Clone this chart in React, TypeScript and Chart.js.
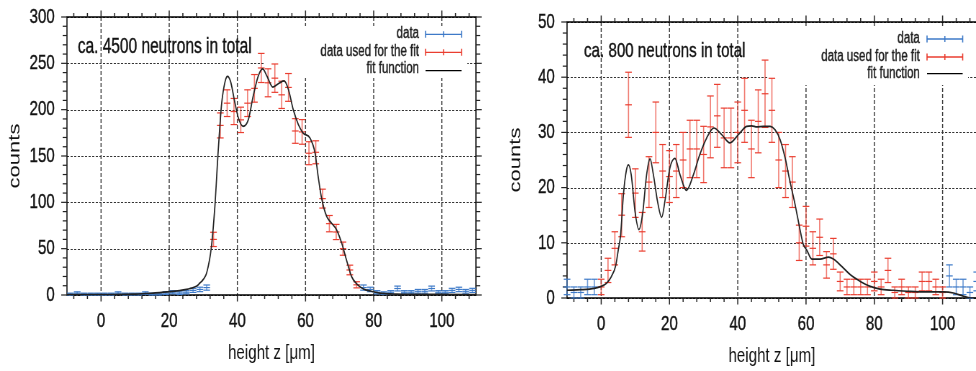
import React, { useEffect, useRef } from "react";
import { Chart, registerables } from "chart.js";

Chart.register(...registerables);

// ---------------- left panel data (2 µm bins) ----------------
const leftBins = [-9, -7, -5, -3, -1, 1, 3, 5, 7, 9, 11, 13, 15, 17, 19, 21, 23, 25, 27, 29, 31, 33, 35, 37, 39, 41, 43, 45, 47, 49, 51, 53, 55, 57, 59, 61, 63, 65, 67, 69, 71, 73, 75, 77, 79, 81, 83, 85, 87, 89, 91, 93, 95, 97, 99, 101, 103, 105, 107, 109];
const leftCounts = [1, 2, 1, 1, 1, 1, 1, 2, 1, 1, 1, 2, 1, 1, 2, 3, 2, 3, 5, 6, 8, 60, 183, 207, 198, 189, 207, 223, 245, 229, 234, 216, 224, 177, 176, 153, 154, 104, 77, 68, 50, 27, 11, 8, 6, 3, 2, 3, 7, 3, 3, 4, 4, 7, 3, 3, 5, 6, 4, 5];
const leftErrors = [1, 1.4, 1, 1, 1, 1, 1, 1.4, 1, 1, 1, 1.4, 1, 1, 1.4, 1.7, 1.4, 1.7, 2.2, 2.4, 2.8, 7.7, 13.5, 14.4, 14.1, 13.7, 14.4, 14.9, 15.7, 15.1, 15.3, 14.7, 15, 13.3, 13.3, 12.4, 12.4, 10.2, 8.8, 8.2, 7.1, 5.2, 3.3, 2.8, 2.4, 1.7, 1.4, 1.7, 2.6, 1.7, 1.7, 2, 2, 2.6, 1.7, 1.7, 2.2, 2.4, 2, 2.2];
const leftFitRange = [33, 75];
const leftFitX = [-10, 0, 10, 15.3, 20.2, 25.1, 26.1, 28.1, 29.0, 30.0, 31.0, 32.4, 33.4, 34.4, 35.4, 36.4, 37.1, 38.0, 39.1, 40.3, 41.7, 43.2, 44.6, 46.1, 47.4, 48.7, 50.4, 52.3, 53.7, 55.0, 56.4, 57.9, 59.3, 61.3, 62.8, 63.7, 64.7, 66.2, 67.6, 69.1, 70.6, 72.0, 73.5, 75.0, 77.0, 79.0, 81.8, 86.7, 93.5, 100, 110];
const leftFitY = [0.3, 0.5, 0.9, 2.1, 3.6, 6.1, 7, 9.7, 12.9, 16.9, 24, 52.5, 95.6, 156.8, 207, 230.5, 236, 230.5, 210.7, 191, 182, 189, 214, 236, 244, 236, 224.4, 228.7, 231, 221.5, 200, 183.8, 174.8, 169.4, 153, 128, 104.7, 84.8, 77.7, 70.5, 56.1, 38, 20, 12, 6.5, 4.3, 2.1, 1.0, 0.7, 0.6, 0.5];
const leftXTicks = [0, 20, 40, 60, 80, 100];
const leftYTicks = [0, 50, 100, 150, 200, 250, 300];
const leftTitle = "ca. 4500 neutrons in total";

// ---------------- right panel data (2 µm bins) ----------------
const rightBins = [-10, -8, -6, -4, -2, 0, 2, 4, 6, 8, 10, 12, 14, 16, 18, 20, 22, 24, 26, 28, 30, 32, 34, 36, 38, 40, 42, 44, 46, 48, 50, 52, 54, 56, 58, 60, 62, 64, 66, 68, 70, 72, 74, 76, 78, 80, 82, 84, 86, 88, 90, 92, 94, 96, 98, 100, 102, 104, 106, 108, 110];
const rightCounts = [2, 1, 1, 2, 2, 2, 5, 9, 15, 35, 19, 12, 21, 30, 23, 22, 23, 25, 27, 27, 26, 31, 33, 29, 29, 30, 34, 27, 32, 37, 34, 25, 23, 21, 10, 13, 9, 11, 6, 8, 3, 2, 2, 2, 2, 3, 2, 5, 1, 2, 1, 1, 3, 3, 2, 1, 4, 2, 2, 1, 3];
const rightErrors = [1.4, 1, 1, 1.4, 1.4, 1.4, 2.2, 3, 3.9, 5.9, 4.4, 3.5, 4.6, 5.5, 4.8, 4.7, 4.8, 5, 5.2, 5.2, 5.1, 5.6, 5.7, 5.4, 5.4, 5.5, 5.8, 5.2, 5.7, 6.1, 5.8, 5, 4.8, 4.6, 3.2, 3.6, 3, 3.3, 2.4, 2.8, 1.7, 1.4, 1.4, 1.4, 1.4, 1.7, 1.4, 2.2, 1, 1.4, 1, 1, 1.7, 1.7, 1.4, 1, 2, 1.4, 1.4, 1, 1.7];
const rightFitRange = [0, 100];
const rightFitX = [-10, -6, -2, 0, 1.6, 3.0, 4.3, 5.0, 5.7, 6.5, 7.4, 8.0, 8.8, 9.9, 11.05, 12.1, 13.3, 14.3, 15.3, 16.5, 17.7, 18.8, 20.1, 21.6, 23.1, 25.0, 27.0, 28.9, 30.9, 33.0, 35.3, 37.7, 40.2, 42.6, 44.1, 45.6, 47.5, 49.5, 50.9, 52.4, 53.9, 55.3, 56.8, 58.3, 59.2, 60.2, 61.7, 64.1, 66.6, 68.0, 70.5, 73, 75.9, 78.8, 81.7, 85.6, 90.5, 95.4, 100.3, 103.2, 106.2, 108.1, 110];
const rightFitY = [1.4, 1.5, 1.75, 2.1, 2.7, 3.9, 6.0, 8.7, 11.5, 18.7, 23.2, 24.1, 22.3, 15.7, 12.4, 15.1, 22.3, 25.2, 22.3, 17.5, 14.6, 18.1, 23.5, 25.3, 22.3, 19.5, 22.3, 26, 29, 30.8, 29.6, 28.1, 29.6, 31.1, 31.2, 31.0, 31.1, 31.1, 30.5, 28.7, 25.3, 21.1, 16.9, 12.2, 9.7, 8.7, 7.06, 7.06, 7.4, 7.06, 5.7, 4.2, 3.0, 2.1, 1.6, 1.4, 1.2, 1.1, 1.1, 0.9, 0.3, 0, 0];
const rightXTicks = [0, 20, 40, 60, 80, 100];
const rightYTicks = [0, 10, 20, 30, 40, 50];
const rightTitle = "ca. 800 neutrons in total";

const legendLabels = ["data", "data used for the fit", "fit function"];
const xAxisTitle = "height z [\u03bcm]";
const yAxisTitle = "counts";

// ---------------- styles ----------------
const SQUEEZE = 0.72;
const FONT = "'Liberation Sans', Arial, Helvetica, sans-serif";
const BLUE = "rgb(62,122,200)";
const BLUE_V = "rgba(62,122,200,0.75)";
const RED = "rgb(234,62,48)";
const RED_V = "rgba(234,62,48,0.7)";
const INK = "#111";
const CAP = 4.6;

const leftLayout = {
  offsetX: 0, canvasW: 680, padTop: 17, padRight: 19, yAxisW: 93, xAxisH: 76,
  xMin: -10, xMax: 110, yMin: 0, yMax: 300, xMinorStep: 4, yMinorStep: 10,
  xTitlePadBottom: 5, yTitlePadTop: 8,
  title: { x: 108, y: 52.7, size: 21.5 },
  legend: { textRight: 582, sx0: 591, sx1: 641, baselines: [38, 56, 73], sampleYs: [34.3, 52.3, 70.7] },
  box: { x0: 368, y0: 26, x1: 649, y1: 78 },
};
const rightLayout = {
  offsetX: 490, canvasW: 700, padTop: 22, padRight: 24, yAxisW: 107, xAxisH: 73,
  xMin: -10, xMax: 110, yMin: 0, yMax: 50, xMinorStep: 4, yMinorStep: 2,
  xTitlePadBottom: 2, yTitlePadTop: 23,
  title: { x: 130.6, y: 57.3, size: 21 },
  legend: { textRight: 597, sx0: 607, sx1: 656.5, baselines: [42.5, 60.5, 78], sampleYs: [39, 57, 73.7] },
  box: { x0: 386, y0: 28, x1: 664, y1: 85 },
};

function line(ctx: CanvasRenderingContext2D, x0: number, y0: number, x1: number, y1: number) {
  ctx.beginPath();
  ctx.moveTo(x0, y0);
  ctx.lineTo(x1, y1);
  ctx.stroke();
}

function heavyText(ctx: CanvasRenderingContext2D, s: string, x: number, y: number, color: string) {
  ctx.fillStyle = color;
  ctx.strokeStyle = color;
  ctx.lineWidth = 0.4;
  ctx.fillText(s, x, y);
  ctx.strokeText(s, x, y);
}

function makePlugin(L: any, xTicks: number[], yTicks: number[], title: string) {
  return {
    id: "gnuplotLook",
    beforeDatasetsDraw(chart: any) {
      const { ctx, chartArea: a } = chart;
      const xs = chart.scales.x;
      const ys = chart.scales.y;
      ctx.save();
      // grid
      ctx.strokeStyle = "#333";
      ctx.lineWidth = 1.4;
      ctx.setLineDash([4, 2]);
      xTicks.forEach((v) => {
        const px = xs.getPixelForValue(v);
        line(ctx, px, a.top, px, a.bottom);
      });
      ctx.lineWidth = 1;
      ctx.setLineDash([3, 2]);
      yTicks.forEach((v) => {
        const py = Math.round(ys.getPixelForValue(v)) + 0.5;
        line(ctx, a.left, py, a.right, py);
      });
      ctx.setLineDash([]);
      // opaque key box
      ctx.fillStyle = "#fff";
      ctx.fillRect(L.box.x0, L.box.y0, L.box.x1 - L.box.x0, L.box.y1 - L.box.y0);
      // border
      ctx.strokeStyle = "#000";
      ctx.lineWidth = 1.5;
      ctx.strokeRect(a.left, a.top, a.right - a.left, a.bottom - a.top);
      // ticks (outward, mirrored)
      ctx.strokeStyle = "#222";
      ctx.lineWidth = 1.5;
      const xStart = Math.ceil(L.xMin / L.xMinorStep) * L.xMinorStep;
      for (let v = xStart; v <= L.xMax; v += L.xMinorStep) {
        const major = xTicks.indexOf(v) >= 0;
        const len = major ? 6.5 : 4;
        const px = xs.getPixelForValue(v);
        line(ctx, px, a.bottom, px, a.bottom + len);
        line(ctx, px, a.top, px, a.top - len);
      }
      ctx.lineWidth = 1.2;
      for (let v = L.yMin; v <= L.yMax; v += L.yMinorStep) {
        const major = yTicks.indexOf(v) >= 0;
        const len = major ? 8 : 6;
        const py = ys.getPixelForValue(v);
        line(ctx, a.left, py, a.left - len, py);
        line(ctx, a.right, py, a.right + len, py);
      }
      ctx.restore();
    },
    afterDatasetDraw(chart: any, args: any) {
      const ds = chart.data.datasets[args.index];
      if (!ds.errors) return;
      const ctx = chart.ctx;
      const xs = chart.scales.x;
      const ys = chart.scales.y;
      ctx.save();
      ds.data.forEach((pt: any, i: number) => {
        const e = ds.errors[i];
        const px = xs.getPixelForValue(pt.x);
        const pm = ys.getPixelForValue(pt.y);
        const pt2 = ys.getPixelForValue(pt.y + e);
        const pb = ys.getPixelForValue(pt.y - e);
        ctx.strokeStyle = ds.barColorV;
        ctx.lineWidth = 1.6;
        line(ctx, px, pt2, px, pb);
        ctx.strokeStyle = ds.barColor;
        ctx.lineWidth = 1.2;
        line(ctx, px - CAP, pt2, px + CAP, pt2);
        line(ctx, px - CAP, pb, px + CAP, pb);
        line(ctx, px - CAP, pm, px + CAP, pm);
      });
      ctx.restore();
    },
    afterDraw(chart: any) {
      const ctx = chart.ctx;
      ctx.save();
      // panel annotation
      ctx.font = `${L.title.size}px ${FONT}`;
      ctx.textAlign = "left";
      ctx.textBaseline = "alphabetic";
      heavyText(ctx, title, L.title.x, L.title.y, INK);
      // key
      const colors = [BLUE, RED, "#000"];
      ctx.font = `16px ${FONT}`;
      ctx.textAlign = "right";
      legendLabels.forEach((lab, i) => {
        heavyText(ctx, lab, L.legend.textRight, L.legend.baselines[i], "#222");
        const y = L.legend.sampleYs[i];
        ctx.strokeStyle = colors[i];
        ctx.lineWidth = 1.3;
        line(ctx, L.legend.sx0, y, L.legend.sx1, y);
        if (i < 2) {
          ctx.lineWidth = 1.6;
          line(ctx, L.legend.sx0, y - 3.5, L.legend.sx0, y + 3.5);
          line(ctx, L.legend.sx1, y - 3.5, L.legend.sx1, y + 3.5);
          const mx = (L.legend.sx0 + L.legend.sx1) / 2;
          line(ctx, mx, y - 3, mx, y + 3);
        }
      });
      ctx.restore();
    },
  };
}

function Panel(props: any) {
  const { L, bins, counts, errors, fitRange, fitX, fitY, xTicks, yTicks, title } = props;
  const ref = useRef<HTMLCanvasElement>(null);
  useEffect(() => {
    const idx = bins.map((b: number, i: number) => i);
    const inFit = (i: number) => bins[i] >= fitRange[0] && bins[i] <= fitRange[1];
    const fitIdx = idx.filter((i: number) => inFit(i));
    const restIdx = idx.filter((i: number) => !inFit(i));
    const pt = (i: number) => ({ x: bins[i], y: counts[i] });
    const tickFont = { family: FONT, size: 21 };
    const yTitleFont = { family: FONT, size: 22 };
    const chart = new Chart(ref.current as HTMLCanvasElement, {
      type: "line",
      data: {
        datasets: [
          {
            label: legendLabels[2],
            data: fitX.map((v: number, i: number) => ({ x: v, y: fitY[i] })),
            borderColor: "#222",
            borderWidth: 1.7,
            pointRadius: 0,
            cubicInterpolationMode: "monotone",
            fill: false,
            order: 0,
          },
          {
            label: legendLabels[1],
            data: fitIdx.map(pt),
            errors: fitIdx.map((i: number) => errors[i]),
            barColor: RED,
            barColorV: RED_V,
            showLine: false,
            pointRadius: 0,
            order: 1,
          },
          {
            label: legendLabels[0],
            data: restIdx.map(pt),
            errors: restIdx.map((i: number) => errors[i]),
            barColor: BLUE,
            barColorV: BLUE_V,
            showLine: false,
            pointRadius: 0,
            order: 2,
          },
        ] as any,
      },
      options: {
        responsive: false,
        animation: false,
        devicePixelRatio: 1,
        events: [],
        layout: { padding: { left: 0, top: L.padTop, right: L.padRight, bottom: 0 } },
        plugins: { legend: { display: false }, tooltip: { enabled: false } },
        scales: {
          x: {
            type: "linear",
            min: L.xMin,
            max: L.xMax,
            afterBuildTicks: (s: any) => {
              s.ticks = xTicks.map((v: number) => ({ value: v }));
            },
            afterFit: (s: any) => {
              s.height = L.xAxisH;
              s.paddingLeft = 0;
              s.paddingRight = 0;
              s.paddingTop = 0;
              s.paddingBottom = 0;
            },
            grid: { display: false, drawTicks: false },
            border: { display: false },
            ticks: { padding: 14, font: tickFont, color: INK, maxRotation: 0, autoSkip: false, textStrokeColor: INK, textStrokeWidth: 0.4, callback: (v: any) => String(v) },
            title: { display: true, text: xAxisTitle, font: tickFont, color: INK, padding: { top: 0, bottom: L.xTitlePadBottom } },
          },
          y: {
            type: "linear",
            min: L.yMin,
            max: L.yMax,
            afterBuildTicks: (s: any) => {
              s.ticks = yTicks.map((v: number) => ({ value: v }));
            },
            afterFit: (s: any) => {
              s.width = L.yAxisW;
              s.paddingLeft = 0;
              s.paddingRight = 0;
              s.paddingTop = 0;
              s.paddingBottom = 0;
            },
            grid: { display: false, drawTicks: false },
            border: { display: false },
            ticks: { padding: 17, font: tickFont, color: INK, autoSkip: false, textStrokeColor: INK, textStrokeWidth: 0.4, callback: (v: any) => String(v) },
            title: { display: true, text: yAxisTitle, font: yTitleFont, color: INK, padding: { top: L.yTitlePadTop - 0.6, bottom: 0 } },
          },
        },
      } as any,
      plugins: [makePlugin(L, xTicks, yTicks, title)],
    });
    return () => chart.destroy();
  }, []);
  return (
    <div
      style={{
        position: "absolute",
        left: L.offsetX,
        top: 0,
        width: L.canvasW,
        height: 371,
        transform: `scaleX(${SQUEEZE})`,
        transformOrigin: "0 0",
      }}
    >
      <canvas ref={ref} width={L.canvasW} height={371} style={{ width: L.canvasW, height: 371, display: "block" }} />
    </div>
  );
}

export default function App() {
  return (
    <div style={{ position: "absolute", left: 0, top: 0, width: 976, height: 371, overflow: "hidden", background: "#fff" }}>
      <Panel L={leftLayout} bins={leftBins} counts={leftCounts} errors={leftErrors} fitRange={leftFitRange} fitX={leftFitX} fitY={leftFitY} xTicks={leftXTicks} yTicks={leftYTicks} title={leftTitle} />
      <Panel L={rightLayout} bins={rightBins} counts={rightCounts} errors={rightErrors} fitRange={rightFitRange} fitX={rightFitX} fitY={rightFitY} xTicks={rightXTicks} yTicks={rightYTicks} title={rightTitle} />
    </div>
  );
}
